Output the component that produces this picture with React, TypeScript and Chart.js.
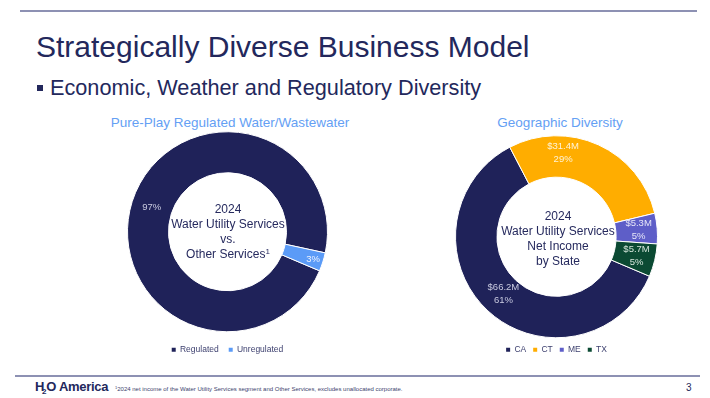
import React, { useEffect, useRef } from "react";
import { Chart, registerables } from "chart.js";

Chart.register(...registerables);

// ---- data ----
const waterLabels = ["Regulated", "Unregulated"];
const waterShares = [97, 3];
const waterPctText = ["97%", "3%"];

const stateLabels = ["CA", "CT", "ME", "TX"];
const stateIncome = [66.2, 31.4, 5.3, 5.7]; // $M
const statePct = [61, 29, 5, 5];

// ---- styles ----
const FONT = "'Liberation Sans', Arial, Helvetica, sans-serif";
const NAVY = "#1f2259";
const TEXT_NAVY = "#262a5e";
const TITLE_BLUE = "#64a0f4";
const waterColors = [NAVY, "#5b9bf7"];
const stateColors = [NAVY, "#ffad00", "#5e5ec8", "#0b4a33"];

function makeArcLabels(lines: string[][], colors: string[], angleShift: number[], radial: number[]) {
  return {
    id: "arcLabels",
    afterDatasetsDraw(chart: any) {
      const { ctx } = chart;
      const meta = chart.getDatasetMeta(0);
      ctx.save();
      ctx.font = `9.5px ${FONT}`;
      ctx.textAlign = "center";
      ctx.textBaseline = "middle";
      meta.data.forEach((arc: any, i: number) => {
        const p = arc.getProps(["x", "y", "startAngle", "endAngle", "innerRadius", "outerRadius"], true);
        const mid = (p.startAngle + p.endAngle) / 2 + ((angleShift[i] || 0) * Math.PI) / 180;
        const r = p.innerRadius + (p.outerRadius - p.innerRadius) * (radial[i] ?? 0.5);
        const cx = p.x + Math.cos(mid) * r;
        const cy = p.y + Math.sin(mid) * r;
        const ls = lines[i];
        const lh = 13;
        ctx.fillStyle = colors[i];
        ls.forEach((t, k) => {
          ctx.fillText(t, cx, cy + (k - (ls.length - 1) / 2) * lh);
        });
      });
      ctx.restore();
    },
  };
}

function legendOpts(pad: number) {
  return {
    position: "bottom" as const,
    labels: {
      boxWidth: 4,
      boxHeight: 4,
      padding: pad,
      color: "#3c3f6e",
      font: { family: FONT, size: 8.5 },
      generateLabels: (chart: any) =>
        (Chart as any).overrides.doughnut.plugins.legend.labels
          .generateLabels(chart)
          .map((l: any) => ({ ...l, lineWidth: 0 })),
    },
  };
}

function Donut(props: {
  labels: string[];
  values: number[];
  colors: string[];
  lines: string[][];
  labelColors: string[];
  angleShift: number[];
  radial: number[];
  legendPad: number;
  style: React.CSSProperties;
  width: number;
  height: number;
}) {
  const ref = useRef<HTMLCanvasElement>(null);
  useEffect(() => {
    if (!ref.current) return;
    const chart = new Chart(ref.current, {
      type: "doughnut",
      data: {
        labels: props.labels,
        datasets: [
          {
            data: props.values,
            backgroundColor: props.colors,
            borderColor: "#ffffff",
            borderWidth: 1,
          },
        ],
      },
      options: {
        responsive: false,
        animation: false,
        rotation: 113,
        cutout: "59%",
        events: [],
        layout: { padding: 0 },
        plugins: {
          legend: legendOpts(props.legendPad) as any,
          tooltip: { enabled: false },
          title: { display: false },
        },
      },
      plugins: [makeArcLabels(props.lines, props.labelColors, props.angleShift, props.radial)],
    });
    return () => chart.destroy();
  }, []);
  return <canvas ref={ref} width={props.width} height={props.height} style={{ position: "absolute", ...props.style }} />;
}

const abs = (s: React.CSSProperties): React.CSSProperties => ({ position: "absolute", ...s });

export default function App() {
  const stateLines = stateIncome.map((v, i) => [`$${v.toFixed(1)}M`, `${statePct[i]}%`]);
  const waterLines = waterPctText.map((t) => [t]);
  return (
    <div
      style={{
        position: "fixed",
        left: 0,
        top: 0,
        width: 710,
        height: 398,
        background: "#fff",
        overflow: "hidden",
        fontFamily: FONT,
        color: TEXT_NAVY,
      }}
    >
      {/* top rule */}
      <div style={abs({ left: 20, top: 10, width: 677, height: 1.5, background: "#8d91b3" })} />
      <div style={abs({ left: 36, top: 29, fontSize: 30, whiteSpace: "nowrap", color: "#23285c", lineHeight: "36px" })}>
        Strategically Diverse Business Model
      </div>
      <div style={abs({ left: 37, top: 85, width: 6, height: 6, background: "#23285c" })} />
      <div style={abs({ left: 50, top: 75, fontSize: 21.7, whiteSpace: "nowrap", color: "#23285c", lineHeight: "26px" })}>
        Economic, Weather and Regulatory Diversity
      </div>

      {/* left chart */}
      <div style={abs({ left: 230, top: 122, transform: "translate(-50%,-50%)", fontSize: 13.5, color: TITLE_BLUE, whiteSpace: "nowrap" })}>
        Pure-Play Regulated Water/Wastewater
      </div>
      <Donut
        labels={waterLabels}
        values={waterShares}
        colors={waterColors}
        lines={waterLines}
        labelColors={["#c9cae0", "#eef3ff"]}
        angleShift={[0, 0]}
        radial={[0.5, 0.75]}
        legendPad={10}
        width={201}
        height={236}
        style={{ left: 127, top: 128 }}
      />
      <div
        style={abs({
          left: 228,
          top: 232,
          transform: "translate(-50%,-50%)",
          fontSize: 12,
          lineHeight: "15px",
          textAlign: "center",
          whiteSpace: "nowrap",
        })}
      >
        2024
        <br />
        Water Utility Services
        <br />
        vs.
        <br />
        Other Services<sup style={{ fontSize: 8, verticalAlign: "4px", lineHeight: 0 }}>1</sup>
      </div>

      {/* right chart */}
      <div style={abs({ left: 560, top: 122, transform: "translate(-50%,-50%)", fontSize: 13.5, color: TITLE_BLUE, whiteSpace: "nowrap" })}>
        Geographic Diversity
      </div>
      <Donut
        labels={stateLabels}
        values={stateIncome}
        colors={stateColors}
        lines={stateLines}
        labelColors={["#c9cae0", "#fff3d6", "#e6e6f8", "#d6e6dc"]}
        angleShift={[0, -20, 0, 0]}
        radial={[0.45, 0.6, 0.55, 0.55]}
        legendPad={7}
        width={203}
        height={229}
        style={{ left: 455, top: 135 }}
      />
      <div
        style={abs({
          left: 558,
          top: 239,
          transform: "translate(-50%,-50%)",
          fontSize: 12,
          lineHeight: "15px",
          textAlign: "center",
          whiteSpace: "nowrap",
        })}
      >
        2024
        <br />
        Water Utility Services
        <br />
        Net Income
        <br />
        by State
      </div>

      {/* footer */}
      <div style={abs({ left: 15, top: 375, width: 685, height: 1.5, background: "#8d91b3" })} />
      <div style={abs({ left: 35, top: 379, fontSize: 13, fontWeight: 700, color: "#23285c", whiteSpace: "nowrap", lineHeight: "16px", letterSpacing: -0.3 })}>
        H<sub style={{ fontSize: 8, verticalAlign: "-3px", marginLeft: -2 }}>2</sub>O America
      </div>
      <div style={abs({ left: 115, top: 384, fontSize: 6, color: "#3c3f6e", whiteSpace: "nowrap", lineHeight: "8px" })}>
        <sup style={{ fontSize: 4, verticalAlign: "2px" }}>1</sup>2024 net income of the Water Utility Services segment and Other Services, excludes unallocated corporate.
      </div>
      <div style={abs({ left: 686, top: 382, fontSize: 10, color: "#23285c", lineHeight: "12px" })}>3</div>
    </div>
  );
}
